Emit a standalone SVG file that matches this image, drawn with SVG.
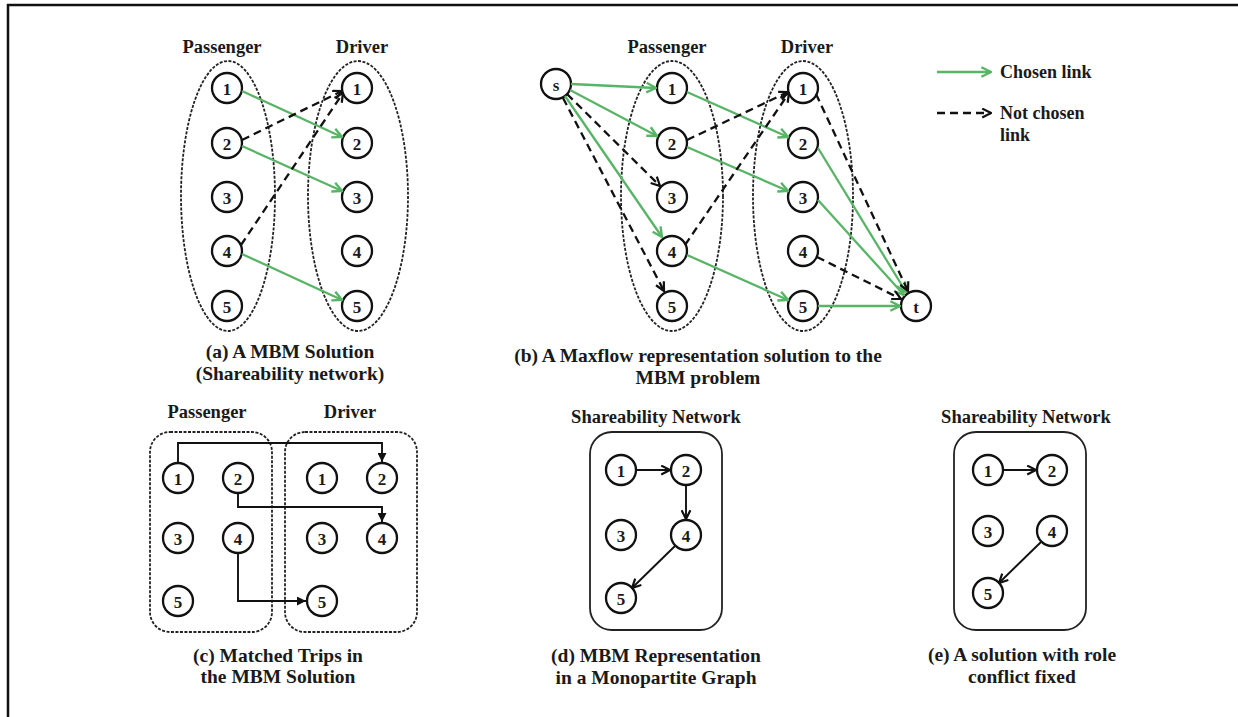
<svg xmlns="http://www.w3.org/2000/svg" width="1238" height="717" viewBox="0 0 1238 717">
  <style>
    .lbl { font-family: "Liberation Serif", "Times New Roman", serif; font-weight: bold; fill: #1a1a1a; text-anchor: middle; }
    .head { font-size: 18.5px; }
    .cap { font-size: 19.5px; }
    .leg { font-size: 18px; text-anchor: start; }
    .num { font-size: 17px; dominant-baseline: central; }
    .node circle { fill: #fff; stroke: #111; stroke-width: 2.3; }
    .group { fill: none; stroke: #222; stroke-width: 1.8; stroke-dasharray: 3 1.5; }
    .box { fill: none; stroke: #222; stroke-width: 1.8; }
    .chosen { stroke: #58b466; stroke-width: 2.3; fill: none; marker-end: url(#arrowGreen); }
    .other { stroke: #111; stroke-width: 2.3; stroke-dasharray: 8 5; fill: none; marker-end: url(#arrowBlack); }
    .link { stroke: #111; stroke-width: 1.9; fill: none; marker-end: url(#arrowBlack); }
    .trip { stroke: #111; stroke-width: 1.9; fill: none; marker-end: url(#arrowSolid); }
  </style>
  <defs>
    <marker id="arrowGreen" viewBox="0 0 10 10" refX="9" refY="5" markerUnits="userSpaceOnUse" markerWidth="12" markerHeight="12" orient="auto">
      <path d="M1,1 L9,5 L1,9" fill="none" stroke="#58b466" stroke-width="2"/>
    </marker>
    <marker id="arrowBlack" viewBox="0 0 10 10" refX="9" refY="5" markerUnits="userSpaceOnUse" markerWidth="11" markerHeight="11" orient="auto">
      <path d="M1,1 L9,5 L1,9" fill="none" stroke="#111" stroke-width="2"/>
    </marker>
    <marker id="arrowSolid" viewBox="0 0 10 10" refX="10" refY="5" markerUnits="userSpaceOnUse" markerWidth="9" markerHeight="9" orient="auto">
      <path d="M0,0 L10,5 L0,10 Z" fill="#111"/>
    </marker>
  </defs>

  <rect width="1238" height="717" fill="#fff"/>
  <!-- outer frame (top and left edges) -->
  <path d="M8,717 V5 H1238" fill="none" stroke="#111" stroke-width="2.5"/>

  <!-- ===== (a) MBM solution ===== -->
  <g id="panel-a">
    <text class="lbl head" x="222" y="53">Passenger</text>
    <text class="lbl head" x="362" y="53">Driver</text>
    <ellipse class="group" cx="228" cy="196" rx="47" ry="135"/>
    <ellipse class="group" cx="358" cy="196" rx="50" ry="135"/>
    <g id="a-p1" class="node"><circle cx="227" cy="88" r="15"/><text class="lbl num" x="227" y="89">1</text></g>
    <g id="a-p2" class="node"><circle cx="227" cy="143" r="15"/><text class="lbl num" x="227" y="144">2</text></g>
    <g id="a-p3" class="node"><circle cx="227" cy="197" r="15"/><text class="lbl num" x="227" y="198">3</text></g>
    <g id="a-p4" class="node"><circle cx="227" cy="251" r="15"/><text class="lbl num" x="227" y="252">4</text></g>
    <g id="a-p5" class="node"><circle cx="227" cy="306" r="15"/><text class="lbl num" x="227" y="307">5</text></g>
    <g id="a-d1" class="node"><circle cx="357" cy="88" r="15"/><text class="lbl num" x="357" y="89">1</text></g>
    <g id="a-d2" class="node"><circle cx="357" cy="143" r="15"/><text class="lbl num" x="357" y="144">2</text></g>
    <g id="a-d3" class="node"><circle cx="357" cy="197" r="15"/><text class="lbl num" x="357" y="198">3</text></g>
    <g id="a-d4" class="node"><circle cx="357" cy="251" r="15"/><text class="lbl num" x="357" y="252">4</text></g>
    <g id="a-d5" class="node"><circle cx="357" cy="306" r="15"/><text class="lbl num" x="357" y="307">5</text></g>
    <text class="lbl cap" x="290" y="358">(a) A MBM Solution</text>
    <text class="lbl cap" x="290" y="380">(Shareability network)</text>
  </g>
  <g id="edges-a">
    <line class="chosen" x1="242" y1="91" x2="342" y2="137"/>
    <line class="chosen" x1="242" y1="146" x2="342" y2="191"/>
    <line class="chosen" x1="242" y1="254" x2="342" y2="300"/>
    <line class="other" x1="242" y1="140" x2="342" y2="91"/>
    <line class="other" x1="241" y1="245" x2="343" y2="93"/>
  </g>

  <!-- ===== (b) Maxflow representation ===== -->
  <g id="panel-b">
    <text class="lbl head" x="667" y="53">Passenger</text>
    <text class="lbl head" x="807" y="53">Driver</text>
    <ellipse class="group" cx="672" cy="196" rx="51" ry="135"/>
    <ellipse class="group" cx="803" cy="196" rx="50" ry="135"/>
    <g id="b-s" class="node"><circle cx="556" cy="84" r="15"/><text class="lbl num" x="556" y="85">s</text></g>
    <g id="b-p1" class="node"><circle cx="672" cy="88" r="15"/><text class="lbl num" x="672" y="89">1</text></g>
    <g id="b-p2" class="node"><circle cx="672" cy="143" r="15"/><text class="lbl num" x="672" y="144">2</text></g>
    <g id="b-p3" class="node"><circle cx="672" cy="197" r="15"/><text class="lbl num" x="672" y="198">3</text></g>
    <g id="b-p4" class="node"><circle cx="672" cy="251" r="15"/><text class="lbl num" x="672" y="252">4</text></g>
    <g id="b-p5" class="node"><circle cx="672" cy="306" r="15"/><text class="lbl num" x="672" y="307">5</text></g>
    <g id="b-d1" class="node"><circle cx="803" cy="88" r="15"/><text class="lbl num" x="803" y="89">1</text></g>
    <g id="b-d2" class="node"><circle cx="803" cy="143" r="15"/><text class="lbl num" x="803" y="144">2</text></g>
    <g id="b-d3" class="node"><circle cx="803" cy="197" r="15"/><text class="lbl num" x="803" y="198">3</text></g>
    <g id="b-d4" class="node"><circle cx="803" cy="251" r="15"/><text class="lbl num" x="803" y="252">4</text></g>
    <g id="b-d5" class="node"><circle cx="803" cy="306" r="15"/><text class="lbl num" x="803" y="307">5</text></g>
    <g id="b-t" class="node"><circle cx="916" cy="306" r="15"/><text class="lbl num" x="916" y="307">t</text></g>
    <text class="lbl cap" x="698" y="362">(b) A Maxflow representation solution to the</text>
    <text class="lbl cap" x="698" y="384">MBM problem</text>
  </g>
  <g id="edges-b">
    <line class="chosen" x1="571" y1="84" x2="656" y2="88"/>
    <line class="chosen" x1="570" y1="90" x2="657" y2="136"/>
    <line class="chosen" x1="565" y1="96" x2="662" y2="237"/>
    <line class="other" x1="567" y1="94" x2="660" y2="186"/>
    <line class="other" x1="563" y1="98" x2="664" y2="291"/>
    <line class="chosen" x1="687" y1="92" x2="788" y2="137"/>
    <line class="chosen" x1="687" y1="147" x2="788" y2="191"/>
    <line class="chosen" x1="687" y1="255" x2="788" y2="300"/>
    <line class="other" x1="687" y1="140" x2="788" y2="92"/>
    <line class="other" x1="685" y1="245" x2="789" y2="93"/>
    <line class="chosen" x1="818" y1="148" x2="906" y2="292"/>
    <line class="chosen" x1="818" y1="200" x2="904" y2="295"/>
    <line class="chosen" x1="818" y1="306" x2="900" y2="306"/>
    <line class="other" x1="816" y1="94" x2="908" y2="291"/>
    <line class="other" x1="817" y1="257" x2="901" y2="299"/>
  </g>

  <!-- legend -->
  <g id="legend">
    <line class="chosen" x1="937" y1="72" x2="991" y2="72"/>
    <text class="lbl leg" x="1000" y="78">Chosen link</text>
    <line class="other" x1="937" y1="113" x2="991" y2="113" stroke-dasharray="9 6"/>
    <text class="lbl leg" x="1000" y="119">Not chosen</text>
    <text class="lbl leg" x="1000" y="141">link</text>
  </g>

  <!-- ===== (c) matched trips ===== -->
  <g id="panel-c">
    <text class="lbl head" x="207" y="418">Passenger</text>
    <text class="lbl head" x="350" y="418">Driver</text>
    <rect class="group" x="150" y="432" width="122" height="200" rx="20"/>
    <rect class="group" x="285" y="432" width="132" height="200" rx="20"/>
    <g id="c-p1" class="node"><circle cx="178" cy="478" r="15"/><text class="lbl num" x="178" y="479">1</text></g>
    <g id="c-p2" class="node"><circle cx="238" cy="478" r="15"/><text class="lbl num" x="238" y="479">2</text></g>
    <g id="c-p3" class="node"><circle cx="178" cy="538" r="15"/><text class="lbl num" x="178" y="539">3</text></g>
    <g id="c-p4" class="node"><circle cx="238" cy="538" r="15"/><text class="lbl num" x="238" y="539">4</text></g>
    <g id="c-p5" class="node"><circle cx="178" cy="601" r="15"/><text class="lbl num" x="178" y="602">5</text></g>
    <g id="c-d1" class="node"><circle cx="322" cy="478" r="15"/><text class="lbl num" x="322" y="479">1</text></g>
    <g id="c-d2" class="node"><circle cx="382" cy="478" r="15"/><text class="lbl num" x="382" y="479">2</text></g>
    <g id="c-d3" class="node"><circle cx="322" cy="538" r="15"/><text class="lbl num" x="322" y="539">3</text></g>
    <g id="c-d4" class="node"><circle cx="382" cy="538" r="15"/><text class="lbl num" x="382" y="539">4</text></g>
    <g id="c-d5" class="node"><circle cx="322" cy="601" r="15"/><text class="lbl num" x="322" y="602">5</text></g>
    <text class="lbl cap" x="278" y="662">(c) Matched Trips in</text>
    <text class="lbl cap" x="278" y="683">the MBM Solution</text>
  </g>
  <g id="edges-c">
    <path class="trip" d="M178,463 V443 H382 V462"/>
    <path class="trip" d="M238,493 V507 H382 V522"/>
    <path class="trip" d="M238,553 V601 H306"/>
  </g>

  <!-- ===== (d) monopartite graph ===== -->
  <g id="panel-d">
    <text class="lbl head" x="656" y="423">Shareability Network</text>
    <rect class="box" x="590" y="432" width="132" height="198" rx="22"/>
    <g id="d-1" class="node"><circle cx="621" cy="470" r="15"/><text class="lbl num" x="621" y="471">1</text></g>
    <g id="d-2" class="node"><circle cx="686" cy="470" r="15"/><text class="lbl num" x="686" y="471">2</text></g>
    <g id="d-3" class="node"><circle cx="621" cy="535" r="15"/><text class="lbl num" x="621" y="536">3</text></g>
    <g id="d-4" class="node"><circle cx="686" cy="535" r="15"/><text class="lbl num" x="686" y="536">4</text></g>
    <g id="d-5" class="node"><circle cx="621" cy="598" r="15"/><text class="lbl num" x="621" y="599">5</text></g>
    <text class="lbl cap" x="656" y="662">(d) MBM Representation</text>
    <text class="lbl cap" x="656" y="684">in a Monopartite Graph</text>
  </g>
  <g id="edges-d">
    <line class="link" x1="636" y1="470" x2="670" y2="470"/>
    <line class="link" x1="686" y1="485" x2="686" y2="519"/>
    <line class="link" x1="675" y1="546" x2="632" y2="588"/>
  </g>

  <!-- ===== (e) role conflict fixed ===== -->
  <g id="panel-e">
    <text class="lbl head" x="1026" y="423">Shareability Network</text>
    <rect class="box" x="954" y="432" width="132" height="198" rx="22"/>
    <g id="e-1" class="node"><circle cx="988" cy="470" r="15"/><text class="lbl num" x="988" y="471">1</text></g>
    <g id="e-2" class="node"><circle cx="1052" cy="470" r="15"/><text class="lbl num" x="1052" y="471">2</text></g>
    <g id="e-3" class="node"><circle cx="988" cy="531" r="15"/><text class="lbl num" x="988" y="532">3</text></g>
    <g id="e-4" class="node"><circle cx="1052" cy="531" r="15"/><text class="lbl num" x="1052" y="532">4</text></g>
    <g id="e-5" class="node"><circle cx="988" cy="593" r="15"/><text class="lbl num" x="988" y="594">5</text></g>
    <text class="lbl cap" x="1022" y="661">(e) A solution with role</text>
    <text class="lbl cap" x="1022" y="683">conflict fixed</text>
  </g>
  <g id="edges-e">
    <line class="link" x1="1003" y1="470" x2="1036" y2="470"/>
    <line class="link" x1="1041" y1="542" x2="999" y2="583"/>
  </g>
</svg>
